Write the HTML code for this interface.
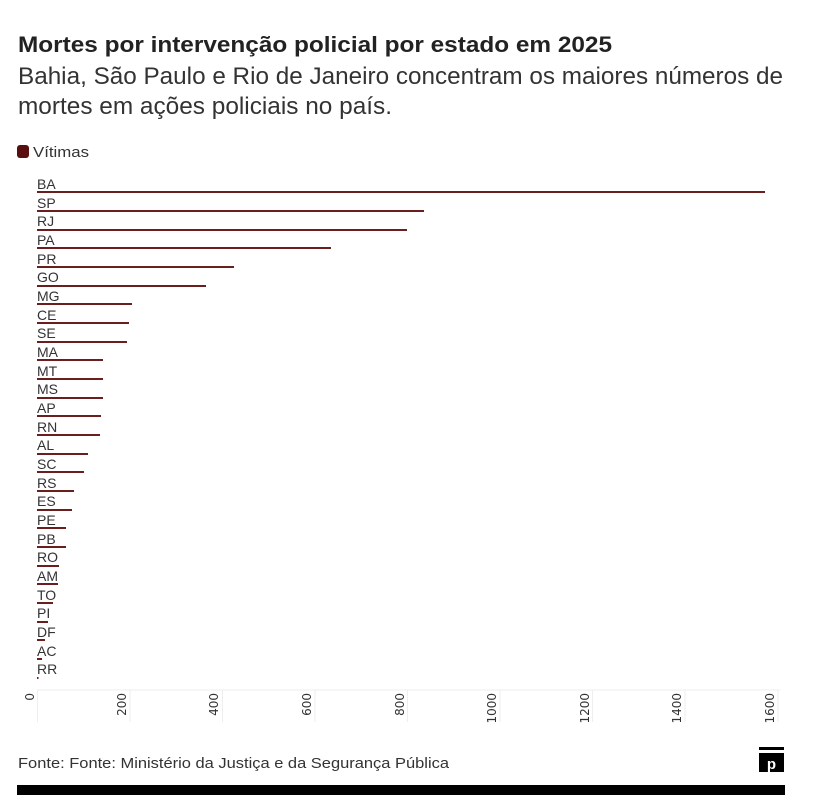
<!DOCTYPE html>
<html><head><meta charset="utf-8"><style>
html,body{margin:0;padding:0;background:#fff;}
svg{display:block;font-family:"Liberation Sans",sans-serif;}
</style></head><body>
<svg width="815" height="806" viewBox="0 0 815 806">
<text x="18" y="52" font-size="22" font-weight="bold" fill="#222" textLength="594" lengthAdjust="spacingAndGlyphs">Mortes por intervenção policial por estado em 2025</text>
<text x="18" y="84" font-size="24" fill="#333" textLength="765" lengthAdjust="spacingAndGlyphs">Bahia, São Paulo e Rio de Janeiro concentram os maiores números de</text>
<text x="18" y="114" font-size="24" fill="#333" textLength="374" lengthAdjust="spacingAndGlyphs">mortes em ações policiais no país.</text>
<rect x="17" y="145" width="12" height="13" rx="3" fill="#5a0f0f"/>
<text x="33" y="157" font-size="15" fill="#333" textLength="56" lengthAdjust="spacingAndGlyphs">Vítimas</text>
<g stroke="#eee" stroke-width="1">
<line x1="37" y1="690" x2="780" y2="690"/>
<line x1="37.5" y1="690" x2="37.5" y2="722"/>
<line x1="130" y1="690" x2="130" y2="722"/>
<line x1="222.5" y1="690" x2="222.5" y2="722"/>
<line x1="315" y1="690" x2="315" y2="722"/>
<line x1="407.5" y1="690" x2="407.5" y2="722"/>
<line x1="500" y1="690" x2="500" y2="722"/>
<line x1="592.5" y1="690" x2="592.5" y2="722"/>
<line x1="685" y1="690" x2="685" y2="722"/>
<line x1="778" y1="690" x2="778" y2="722"/>
</g>
<g font-family="'DejaVu Sans',sans-serif" font-size="12" fill="#333" text-anchor="end">
<text transform="translate(34,693) rotate(-90)">0</text>
<text transform="translate(126,693) rotate(-90)">200</text>
<text transform="translate(218,693) rotate(-90)">400</text>
<text transform="translate(311,693) rotate(-90)">600</text>
<text transform="translate(404,693) rotate(-90)">800</text>
<text transform="translate(496,693) rotate(-90)">1000</text>
<text transform="translate(589,693) rotate(-90)">1200</text>
<text transform="translate(681,693) rotate(-90)">1400</text>
<text transform="translate(774,693) rotate(-90)">1600</text>
</g>
<g font-size="14" fill="#333">
<text x="37" y="189">BA</text><text x="37" y="208">SP</text><text x="37" y="226">RJ</text><text x="37" y="245">PA</text><text x="37" y="264">PR</text><text x="37" y="282">GO</text><text x="37" y="301">MG</text><text x="37" y="320">CE</text><text x="37" y="338">SE</text><text x="37" y="357">MA</text><text x="37" y="376">MT</text><text x="37" y="394">MS</text><text x="37" y="413">AP</text><text x="37" y="432">RN</text><text x="37" y="450">AL</text><text x="37" y="469">SC</text><text x="37" y="488">RS</text><text x="37" y="506">ES</text><text x="37" y="525">PE</text><text x="37" y="544">PB</text><text x="37" y="562">RO</text><text x="37" y="581">AM</text><text x="37" y="600">TO</text><text x="37" y="618">PI</text><text x="37" y="637">DF</text><text x="37" y="656">AC</text><text x="37" y="674">RR</text>
</g>
<g fill="#6b1e1e">
<rect x="37" y="191" width="728" height="2"/>
<rect x="37" y="210" width="387" height="2"/>
<rect x="37" y="229" width="370" height="2"/>
<rect x="37" y="247" width="294" height="2"/>
<rect x="37" y="266" width="197" height="2"/>
<rect x="37" y="285" width="169" height="2"/>
<rect x="37" y="303" width="95" height="2"/>
<rect x="37" y="322" width="92" height="2"/>
<rect x="37" y="341" width="90" height="2"/>
<rect x="37" y="359" width="66" height="2"/>
<rect x="37" y="378" width="66" height="2"/>
<rect x="37" y="397" width="66" height="2"/>
<rect x="37" y="415" width="64" height="2"/>
<rect x="37" y="434" width="63" height="2"/>
<rect x="37" y="453" width="51" height="2"/>
<rect x="37" y="471" width="47" height="2"/>
<rect x="37" y="490" width="37" height="2"/>
<rect x="37" y="509" width="35" height="2"/>
<rect x="37" y="527" width="29" height="2"/>
<rect x="37" y="546" width="29" height="2"/>
<rect x="37" y="565" width="22" height="2"/>
<rect x="37" y="583" width="21" height="2"/>
<rect x="37" y="602" width="16" height="2"/>
<rect x="37" y="621" width="11" height="2"/>
<rect x="37" y="639" width="8" height="2"/>
<rect x="37" y="658" width="5" height="2"/>
<rect x="37" y="677" width="1.5" height="2"/>
</g>
<text x="18" y="768" font-size="15" fill="#333" textLength="431" lengthAdjust="spacingAndGlyphs">Fonte: Fonte: Ministério da Justiça e da Segurança Pública</text>
<rect x="759" y="747" width="25" height="3" fill="#000"/>
<rect x="759" y="753" width="25" height="19" fill="#000"/>
<text x="771.5" y="769" font-size="15" font-weight="bold" fill="#fff" text-anchor="middle">p</text>
<rect x="17" y="785" width="768" height="10" fill="#000"/>
</svg>
</body></html>
